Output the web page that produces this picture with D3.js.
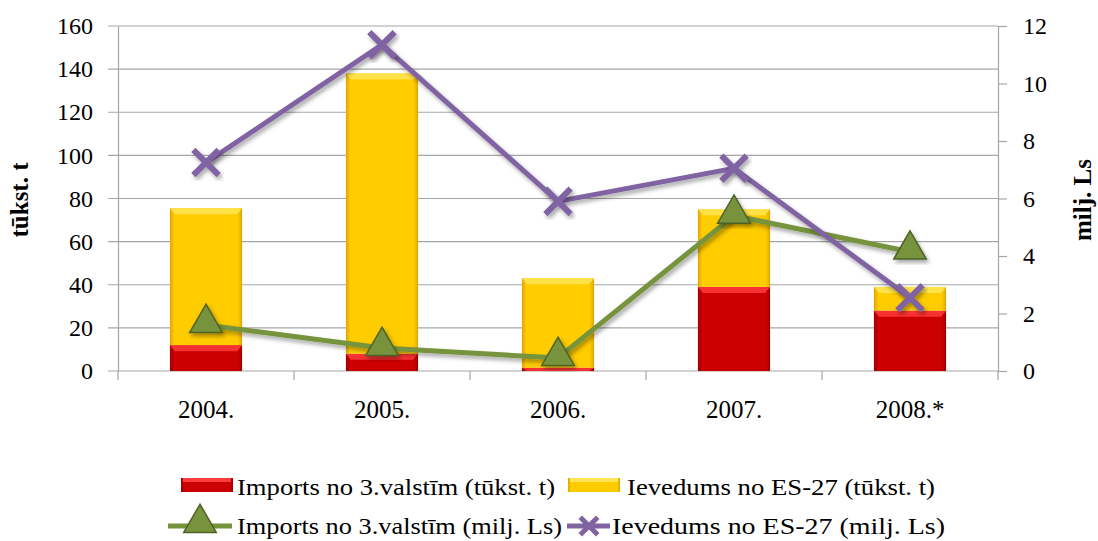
<!DOCTYPE html>
<html lang="lv">
<head>
<meta charset="UTF-8">
<title>Imports un ievedums</title>
<style>
    body { margin: 0; background: #fff; }
</style>
</head>
<body>
<div id="chart"></div>
<script src="https://d3js.org/d3.v7.min.js"></script>
<script>
// dati
const years = ["2004.", "2005.", "2006.", "2007.", "2008.*"];
const importTonnes = [12, 8, 1.5, 39, 28];      // tūkst. t
const esTonnes = [63.5, 130, 41.5, 36, 11];      // tūkst. t
const importLs = [1.6, 0.8, 0.45, 5.4, 4.15];   // milj. Ls
const esLs = [7.25, 11.35, 5.9, 7.05, 2.55];    // milj. Ls
const leftTicks = [0, 20, 40, 60, 80, 100, 120, 140, 160];
const rightTicks = [0, 2, 4, 6, 8, 10, 12];

const W = 1098, H = 541;
const pLeft = 118, pRight = 998, pTop = 26, pBottom = 371;
const FONT = '"Liberation Serif", "Times New Roman", serif';

const svg = d3.select("#chart").append("svg")
    .attr("width", W).attr("height", H);

const defs = svg.append("defs");
const bevel = (id, edge, mid) => {
    const g = defs.append("linearGradient").attr("id", id)
        .attr("x1", 0).attr("x2", 1).attr("y1", 0).attr("y2", 0);
    g.append("stop").attr("offset", "0%").attr("stop-color", edge);
    g.append("stop").attr("offset", "6%").attr("stop-color", mid);
    g.append("stop").attr("offset", "94%").attr("stop-color", mid);
    g.append("stop").attr("offset", "100%").attr("stop-color", edge);
};
bevel("gRed", "#9e0000", "#cc0000");
bevel("gYel", "#e0a600", "#ffcc00");
const shadow = defs.append("filter").attr("id", "sh")
    .attr("x", "-20%").attr("y", "-20%").attr("width", "140%").attr("height", "140%");
shadow.append("feDropShadow").attr("dx", 2).attr("dy", 3)
    .attr("stdDeviation", 2).attr("flood-opacity", 0.35);

const x = d3.scaleBand().domain(years).range([pLeft, pRight])
    .paddingInner(0.59).paddingOuter(0.295);
const yL = d3.scaleLinear().domain([0, 160]).range([pBottom, pTop]);
const yR = d3.scaleLinear().domain([0, 12]).range([pBottom, pTop]);
const cx = d => x(d) + x.bandwidth() / 2;

// režģis
svg.append("g").selectAll("line").data(leftTicks).join("line")
    .attr("x1", pLeft - 10).attr("x2", pRight)
    .attr("y1", d => yL(d)).attr("y2", d => yL(d))
    .attr("stroke", "#a6a6a6").attr("stroke-width", 1.2);

// kreisā ass
const axL = svg.append("g").attr("transform", `translate(${pLeft},0)`)
    .call(d3.axisLeft(yL).tickValues(leftTicks).tickSize(0).tickSizeOuter(0).tickPadding(25));
axL.select(".domain").attr("stroke", "#a6a6a6").attr("stroke-width", 1.2);
axL.selectAll("text").attr("fill", "#000")
    .style("font-family", FONT).style("font-size", "24px");

// labā ass
const axR = svg.append("g").attr("transform", `translate(${pRight},0)`)
    .call(d3.axisRight(yR).tickValues(rightTicks).tickSize(9).tickSizeOuter(0).tickPadding(16));
axR.select(".domain").attr("stroke", "#a6a6a6").attr("stroke-width", 1.2);
axR.selectAll("line").attr("stroke", "#a6a6a6").attr("stroke-width", 1.2);
axR.selectAll("text").attr("fill", "#000")
    .style("font-family", FONT).style("font-size", "24px");

// apakšējā ass
const step = x.step();
const bounds = years.map(d => cx(d) - step / 2).concat([pRight]);
svg.append("g").selectAll("line").data(bounds).join("line")
    .attr("x1", d => d).attr("x2", d => d)
    .attr("y1", pBottom).attr("y2", pBottom + 9)
    .attr("stroke", "#a6a6a6").attr("stroke-width", 1.2);
svg.append("g").selectAll("text").data(years).join("text")
    .attr("x", d => cx(d)).attr("y", 418)
    .attr("text-anchor", "middle")
    .style("font-family", FONT).style("font-size", "25px")
    .text(d => d);

// asu nosaukumi
svg.append("text")
    .attr("transform", "translate(28,200) rotate(-90)")
    .attr("text-anchor", "middle").attr("font-weight", "bold")
    .style("font-family", FONT).style("font-size", "25px")
    .text("tūkst. t");
svg.append("text")
    .attr("transform", "translate(1091,200) rotate(-90)")
    .attr("text-anchor", "middle").attr("font-weight", "bold")
    .style("font-family", FONT).style("font-size", "25px")
    .text("milj. Ls");

// stabiņi
const stacks = years.map((d, i) => ({ year: d, imp: importTonnes[i], es: esTonnes[i] }));
const drawBar = (y0, y1, xPos, grad, hi) => {
    const g = svg.append("g");
    g.append("rect").attr("x", xPos).attr("width", x.bandwidth())
        .attr("y", yL(y1)).attr("height", yL(y0) - yL(y1))
        .attr("fill", `url(#${grad})`);
    const hh = Math.min(6, yL(y0) - yL(y1));
    g.append("polygon")
        .attr("points", [
            [xPos, yL(y1)], [xPos + x.bandwidth(), yL(y1)],
            [xPos + x.bandwidth() - 5, yL(y1) + hh], [xPos + 5, yL(y1) + hh]
        ].map(p => p.join(",")).join(" "))
        .attr("fill", hi).attr("opacity", 0.85);
};
stacks.forEach(s => {
    drawBar(0, s.imp, x(s.year), "gRed", "#ff3b3b");
    drawBar(s.imp, s.imp + s.es, x(s.year), "gYel", "#ffe455");
});

// līnijas
const lineR = d3.line().x((d, i) => cx(years[i])).y(d => yR(d));
svg.append("path").datum(importLs).attr("d", lineR)
    .attr("fill", "none").attr("stroke", "#77933c").attr("stroke-width", 5)
    .attr("filter", "url(#sh)");
svg.append("path").datum(esLs).attr("d", lineR)
    .attr("fill", "none").attr("stroke", "#8064a2").attr("stroke-width", 5)
    .attr("filter", "url(#sh)");

const tri = d3.symbol().type(d3.symbolTriangle).size(460);
svg.append("g").selectAll("path").data(importLs).join("path")
    .attr("d", tri)
    .attr("transform", (d, i) => `translate(${cx(years[i])},${yR(d) - 2})`)
    .attr("fill", "#77933c").attr("stroke", "#4f6228").attr("stroke-width", 1.5)
    .attr("filter", "url(#sh)");

const cross = d3.symbol().type(d3.symbolX).size(420);
svg.append("g").selectAll("path").data(esLs).join("path")
    .attr("d", cross)
    .attr("transform", (d, i) => `translate(${cx(years[i])},${yR(d)})`)
    .attr("fill", "none").attr("stroke", "#8064a2").attr("stroke-width", 6)
    .attr("filter", "url(#sh)");

// leģenda
const lg = svg.append("g");
const legendText = (xPos, yPos, len, txt) => lg.append("text")
    .attr("x", xPos).attr("y", yPos)
    .attr("textLength", len).attr("lengthAdjust", "spacingAndGlyphs")
    .style("font-family", FONT).style("font-size", "24px")
    .text(txt);
const legendBars = [
    { x: 181, y: 478, grad: "gRed", hi: "#ff3b3b", text: "Imports no 3.valstīm (tūkst. t)", tx: 237, tl: 318 },
    { x: 568, y: 478, grad: "gYel", hi: "#ffe455", text: "Ievedums no ES-27 (tūkst. t)", tx: 627, tl: 308 }
];
legendBars.forEach(l => {
    lg.append("rect").attr("x", l.x).attr("y", l.y).attr("width", 52).attr("height", 14)
        .attr("fill", `url(#${l.grad})`);
    lg.append("rect").attr("x", l.x + 2).attr("y", l.y).attr("width", 48).attr("height", 4)
        .attr("fill", l.hi);
    legendText(l.tx, 495, l.tl, l.text);
});
lg.append("line").attr("x1", 168).attr("x2", 232).attr("y1", 526).attr("y2", 526)
    .attr("stroke", "#77933c").attr("stroke-width", 5);
lg.append("path").attr("d", tri).attr("transform", "translate(200,523)")
    .attr("fill", "#77933c").attr("stroke", "#4f6228").attr("stroke-width", 1.5);
legendText(237, 534, 325, "Imports no 3.valstīm (milj. Ls)");
lg.append("line").attr("x1", 567).attr("x2", 610).attr("y1", 526).attr("y2", 526)
    .attr("stroke", "#8064a2").attr("stroke-width", 5);
lg.append("path").attr("d", d3.symbol().type(d3.symbolX).size(200)).attr("transform", "translate(589,526)")
    .attr("fill", "none").attr("stroke", "#8064a2").attr("stroke-width", 5);
legendText(612, 534, 333, "Ievedums no ES-27 (milj. Ls)");
</script>
</body>
</html>
